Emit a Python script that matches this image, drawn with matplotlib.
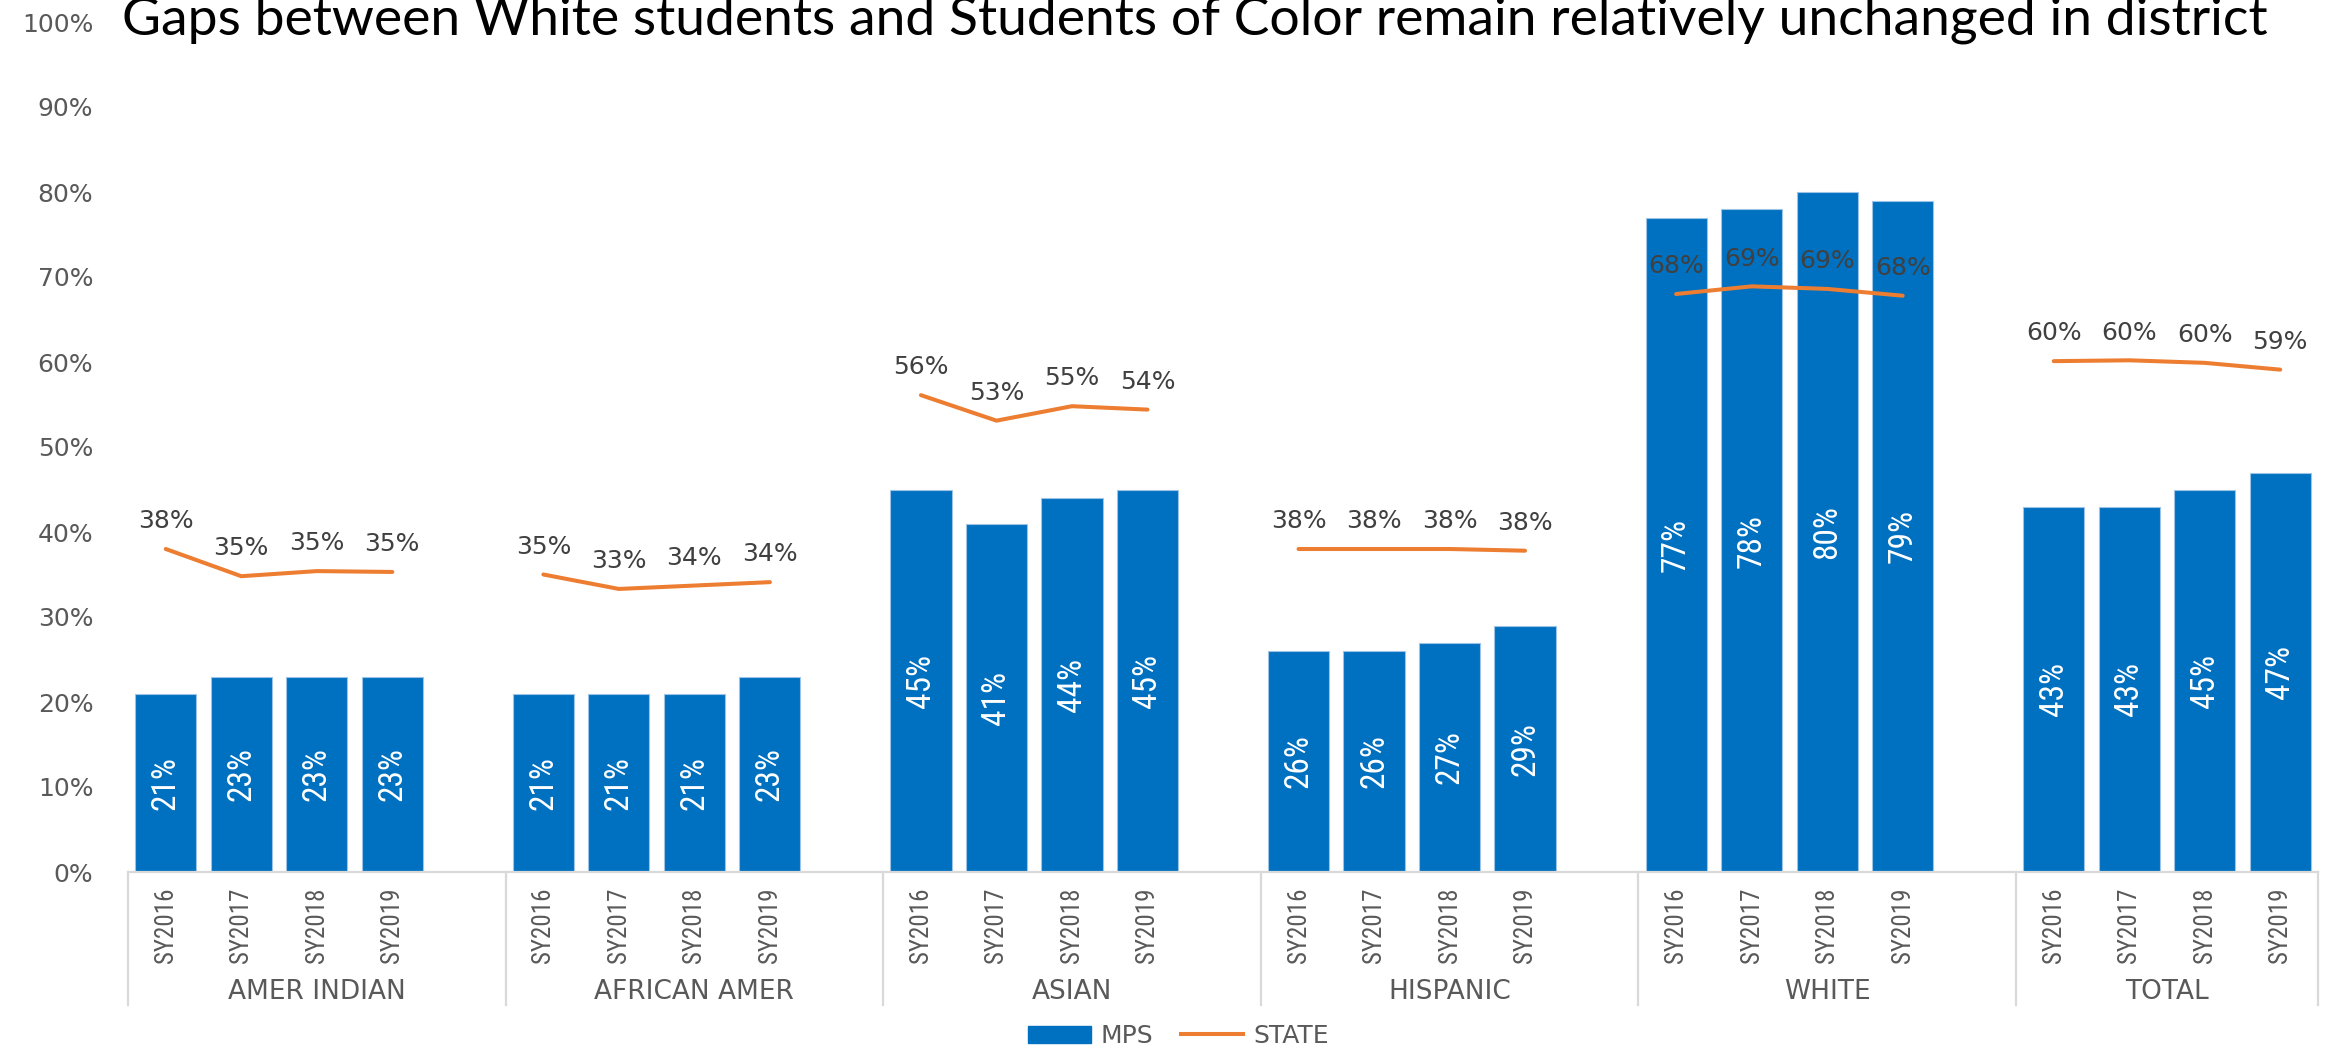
import matplotlib

matplotlib.use("Agg")
import matplotlib.pyplot as plt
from matplotlib.lines import Line2D
from matplotlib.patches import Patch

groups = ["AMER INDIAN", "AFRICAN AMER", "ASIAN", "HISPANIC", "WHITE", "TOTAL"]
years = ["SY2016", "SY2017", "SY2018", "SY2019"]

mps_amer_indian = [21, 23, 23, 23]
mps_african_amer = [21, 21, 21, 23]
mps_asian = [45, 41, 44, 45]
mps_hispanic = [26, 26, 27, 29]
mps_white = [77, 78, 80, 79]
mps_total = [43, 43, 45, 47]

state_amer_indian = [38.0, 34.8, 35.4, 35.3]
state_african_amer = [35.0, 33.3, 33.7, 34.1]
state_asian = [56.1, 53.1, 54.8, 54.4]
state_hispanic = [38.0, 38.0, 38.0, 37.8]
state_white = [68.0, 68.9, 68.6, 67.8]
state_total = [60.1, 60.2, 59.9, 59.1]

mps = [mps_amer_indian, mps_african_amer, mps_asian, mps_hispanic, mps_white, mps_total]
state = [state_amer_indian, state_african_amer, state_asian, state_hispanic, state_white, state_total]

TITLE = "Gaps between White students and Students of Color remain relatively unchanged in district"

BLUE = "#0070C0"
ORANGE = "#ED7D31"
AXIS_GRAY = "#D9D9D9"
TEXT_GRAY = "#595959"
LABEL_GRAY = "#404040"

WIDE = ["DejaVu Sans"]
NARROW = ["Noto Sans ExtraCondensed", "Noto Sans Condensed", "Liberation Sans Narrow",
          "Roboto Condensed", "DejaVu Sans"]

fig = plt.figure(figsize=(23.43, 10.47), dpi=100)
ax = fig.add_axes([128 / 2343, 1 - 872 / 1047, 2190 / 2343, 850 / 1047])

# every group takes five slots (four years and a spacer), the last one only four
slot = 0
tick_pos, tick_lab, group_start, group_mid = [], [], [], []
for g, name in enumerate(groups):
    group_start.append(slot - 0.5)
    xs = [slot + i for i in range(len(years))]
    n_slots = 5 if g < len(groups) - 1 else 4
    group_mid.append(slot + (n_slots - 1) / 2)

    ax.bar(xs, mps[g], width=0.81, color=BLUE, edgecolor="#9DC3E6", linewidth=0.8, zorder=2)
    for x, v in zip(xs, mps[g]):
        ax.text(x, v / 2, f"{v}%", rotation=90, ha="center", va="center",
                color="white", fontsize=24, family=NARROW, fontstretch="condensed", zorder=4)

    ax.plot(xs, state[g], color=ORANGE, linewidth=2.9, solid_capstyle="round", zorder=3)
    for x, v in zip(xs, state[g]):
        ax.annotate(f"{v:.0f}%", (x, v), xytext=(0, 20), textcoords="offset points",
                    ha="center", va="center", color=LABEL_GRAY, fontsize=18, family=WIDE, zorder=5)

    tick_pos += xs
    tick_lab += years
    slot += n_slots
group_start.append(slot - 0.5)

ax.set_xlim(-0.5, slot - 0.5)
ax.set_ylim(0, 100)

ax.set_yticks(range(0, 101, 10))
ax.set_yticklabels([f"{t}%" for t in range(0, 101, 10)], family=WIDE, fontsize=18, color=TEXT_GRAY)
ax.tick_params(axis="y", length=0, pad=25)

ax.set_xticks(tick_pos)
ax.set_xticklabels(tick_lab, rotation=90, family=NARROW, fontstretch="condensed",
                   fontsize=18, color=TEXT_GRAY)
ax.tick_params(axis="x", length=0, pad=11)

for side in ["top", "right", "left"]:
    ax.spines[side].set_visible(False)
ax.spines["bottom"].set_color(AXIS_GRAY)
ax.spines["bottom"].set_linewidth(1.6)

# category separators running down through the label area
trans = ax.get_xaxis_transform()
for x in group_start:
    ax.plot([x, x], [0, -0.156], transform=trans, color=AXIS_GRAY, linewidth=1.6, clip_on=False)
for x, name in zip(group_mid, groups):
    ax.text(x, -0.141, name, transform=trans, ha="center", va="center",
            family=WIDE, fontsize=19, color=TEXT_GRAY)

handles = [Patch(facecolor=BLUE, edgecolor=BLUE), Line2D([0], [0], color=ORANGE, linewidth=2.9)]
fig.legend(handles, ["MPS", "STATE"], loc="center", bbox_to_anchor=(0.503, 1 - 1036 / 1047),
           ncol=2, frameon=False, handlelength=2.5, handletextpad=0.4, columnspacing=1.1,
           prop={"family": WIDE, "size": 18}, labelcolor=TEXT_GRAY)

fig.text(122 / 2343, 1 - 35 / 1047, TITLE, va="baseline", ha="left",
         family=["Lato", "DejaVu Sans"], fontsize=38.5, color="black")

fig.savefig("out.png", dpi=100)
